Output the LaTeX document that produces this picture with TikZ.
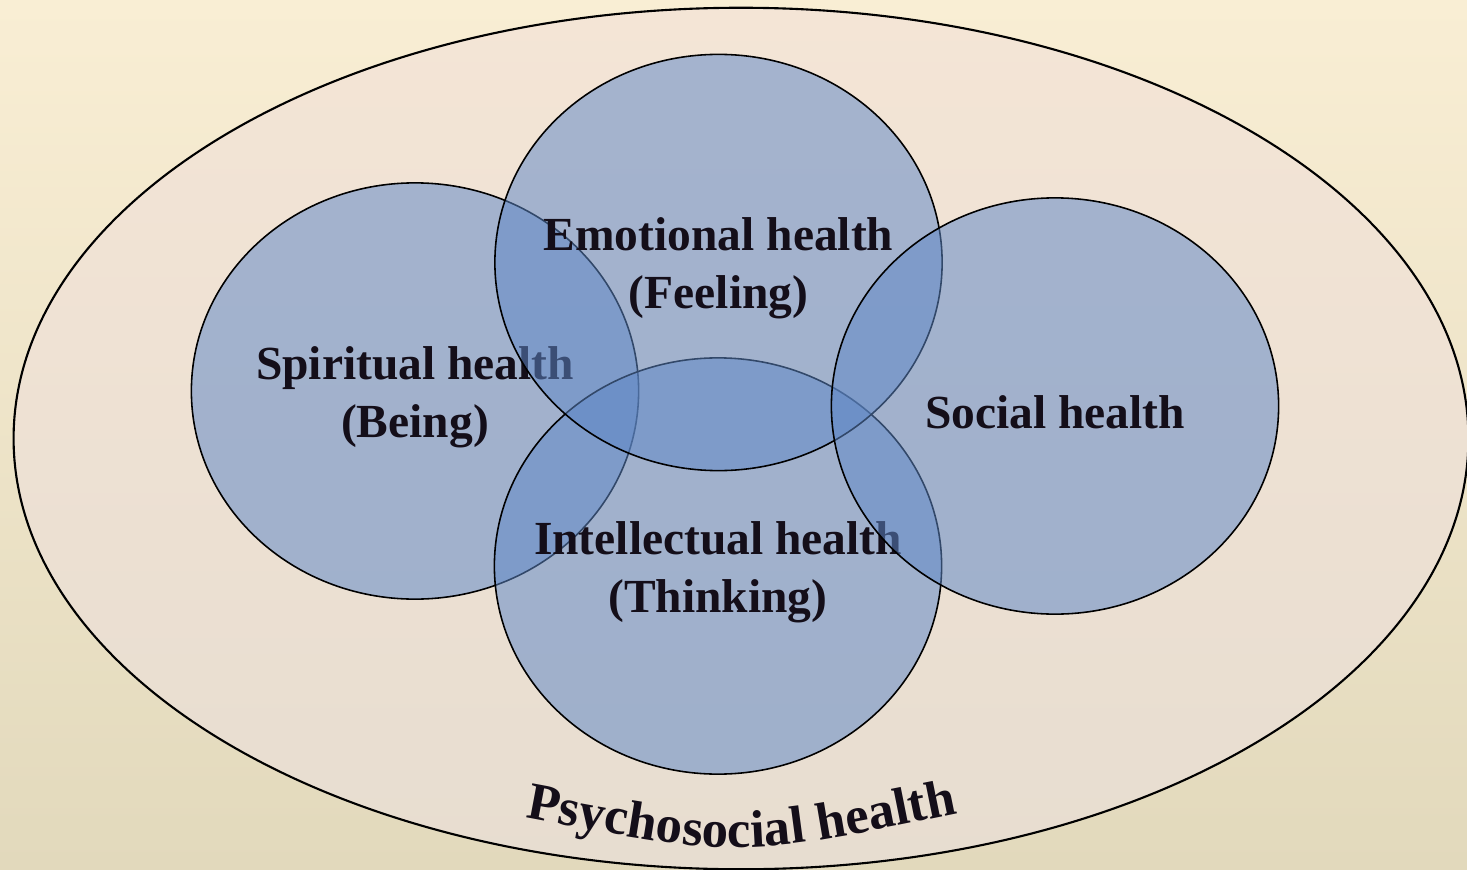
\documentclass[tikz,border=0pt]{standalone}
\usepackage{fontspec}
\setmainfont{Liberation Serif}
\usepackage{tikz}
\usetikzlibrary{shapes.geometric,decorations.text}
\definecolor{bgtop}{RGB}{249,238,212}
\definecolor{bgbottom}{RGB}{226,217,188}
\definecolor{ovaltop}{RGB}{244,229,214}
\definecolor{ovalbottom}{RGB}{231,221,208}
\definecolor{healthblue}{RGB}{95,136,199}
\definecolor{inkdark}{RGB}{20,14,25}
\tikzset{
  area/.style={shape=ellipse,draw=black,line width=0.45pt,fill=healthblue,fill opacity=0.53,
    minimum width=4.47cm,minimum height=4.16cm,inner sep=0pt},
  areatext/.style={align=center,text=inkdark,yshift=-0.6mm,font=\fontsize{13.5}{16.5}\selectfont\bfseries}
}

\begin{document}
\begin{tikzpicture}[x=0.01cm,y=-0.01cm]
					\shade[top color=bgtop,bottom color=bgbottom] (0,0) rectangle (1467,870);
					\useasboundingbox (0,0) rectangle (1467,870);
					\node (whole) [shape=ellipse,draw=black,line width=0.6pt,top color=ovaltop,bottom color=ovalbottom,
						minimum width=14.54cm,minimum height=8.61cm,inner sep=0pt] at (741,438.5) {};
					\node (spiritual) [area] at (415,391) {};
					\node (spiritualtext) [areatext] at (spiritual.center) {Spiritual health\\(Being)};
					\node (intellectual) [area] at (718,566) {};
					\node (intellectualtext) [areatext] at (intellectual.center) {Intellectual health\\(Thinking)};
					\node (emotional) [area] at (718.5,262.5) {};
					\node (emotionaltext) [areatext] at (emotional.center) {Emotional health\\(Feeling)};
					\node (social) [area] at (1055,406) {};
					\node (socialtext) [areatext] at (social.center) {Social health};

					\coordinate (archleft) at (528,818);
					\coordinate (archbend) at (740,858);
					\coordinate (archright) at (955,814);
					\path[decorate,decoration={text along path,text align=center,text color=inkdark,
						text={|\fontsize{15}{15}\selectfont\bfseries|Psychosocial health}}]
						(archleft) .. controls (archbend) .. (archright);
				\end{tikzpicture}
\end{document}
